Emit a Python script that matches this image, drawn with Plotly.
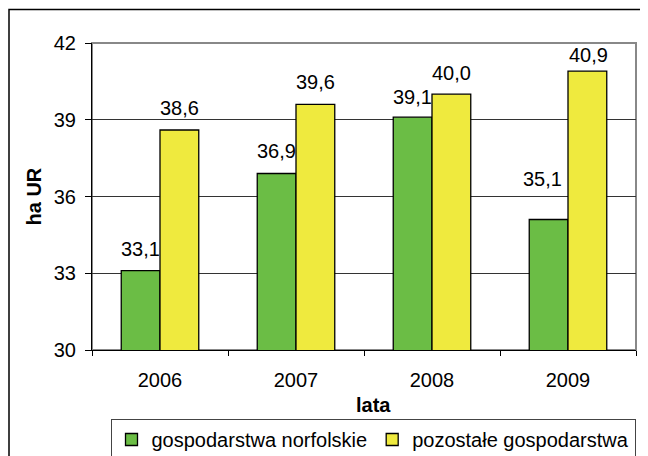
import plotly.graph_objects as go

# Data (ha UR per farm, by year)
YEARS = ["2006", "2007", "2008", "2009"]
NORFOLK = [33.1, 36.9, 39.1, 35.1]
OTHER = [38.6, 39.6, 40.0, 40.9]
SERIES_NAMES = ["gospodarstwa norfolskie", "pozostałe gospodarstwa"]
Y_TICKS = [30, 33, 36, 39, 42]

GREEN = "#6bbd45"
YELLOW = "#efea3e"
FONT = "Liberation Sans, Arial, sans-serif"
FS = 20

# label nudges in px (the original has a couple of hand-placed labels)
NORFOLK_RAISE = [22, 22, 20, 41]
NORFOLK_NUDGE = [0, 0, 0, -6]
OTHER_RAISE = [22, 22, 21, 16]
OTHER_NUDGE = [0, 0, 0, 1]

# the page body adds an 8px offset, so figure px = screen px - 8
W, H = 648, 456
ML, MR, MT, MB = 84, 20, 35, 114
PLOT_W = W - ML - MR
PLOT_H = H - MT - MB


def fmt(v):
    return f"{v:.1f}".replace(".", ",")


fig = go.Figure()
for name, vals, color in ((SERIES_NAMES[0], NORFOLK, GREEN),
                          (SERIES_NAMES[1], OTHER, YELLOW)):
    fig.add_trace(go.Bar(
        x=YEARS, y=vals, name=name,
        marker=dict(color=color, line=dict(color="black", width=1.3)),
    ))

# value labels; x given as category index (year strings would be read
# as numeric positions on a category axis)
half_bar = PLOT_W / len(YEARS) * (1 - 0.43) / 4
for vals, raise_, nudge, side in ((NORFOLK, NORFOLK_RAISE, NORFOLK_NUDGE, -1),
                                  (OTHER, OTHER_RAISE, OTHER_NUDGE, 1)):
    for i, (v, r, n) in enumerate(zip(vals, raise_, nudge)):
        fig.add_annotation(
            x=i, y=v, text=fmt(v), showarrow=False,
            xshift=side * half_bar + n, yshift=r,
            font=dict(family=FONT, size=FS, color="black"),
        )

# axis titles placed like the original (Excel centres them on the chart)
fig.add_annotation(text="<b>lata</b>", xref="paper", yref="paper",
                   x=(365 - ML) / PLOT_W, y=-(397 - MT - PLOT_H) / PLOT_H,
                   xanchor="center", yanchor="middle",
                   showarrow=False, font=dict(family=FONT, size=FS))
fig.add_annotation(text="<b>ha UR</b>", xref="paper", yref="paper",
                   x=-(ML - 25) / PLOT_W, y=0.5, textangle=-90,
                   xanchor="center", yanchor="middle",
                   showarrow=False, font=dict(family=FONT, size=FS))

# grey frame on top/right of the plot area, black outer chart border
fig.add_shape(type="rect", xref="paper", yref="paper", x0=0, x1=1, y0=0, y1=1,
              line=dict(color="#888888", width=2), layer="below")
fig.add_shape(type="rect", xref="paper", yref="paper",
              x0=-(ML - 1) / PLOT_W, x1=1.2,
              y0=-0.5, y1=1 + (MT - 1.5) / PLOT_H,
              line=dict(color="black", width=1.5))

fig.update_layout(
    width=W, height=H,
    margin=dict(l=ML, r=MR, t=MT, b=MB, autoexpand=False),
    paper_bgcolor="white", plot_bgcolor="white",
    font=dict(family=FONT, size=FS, color="black"),
    barmode="group", bargap=0.43, bargroupgap=0,
    showlegend=True,
    legend=dict(
        orientation="h", xref="container", yref="container",
        x=365 / W, xanchor="center",
        y=1 - 411 / H, yanchor="top",
        bordercolor="#444444", borderwidth=1,
        font=dict(family=FONT, size=FS), itemwidth=30,
        traceorder="normal",
    ),
    xaxis=dict(
        type="category", showline=True, linecolor="black", linewidth=1,
        ticks="outside", tickson="boundaries", ticklen=5, tickcolor="black",
        ticklabelstandoff=12, showgrid=False, automargin=False,
    ),
    yaxis=dict(
        range=[30, 42], tickvals=Y_TICKS, showline=True, linecolor="black",
        linewidth=1, ticks="outside", ticklen=6, tickcolor="black",
        ticklabelstandoff=5, automargin=False,
        showgrid=True, gridcolor="#333333", gridwidth=1, zeroline=False,
    ),
)

fig.write_html("out.html")
